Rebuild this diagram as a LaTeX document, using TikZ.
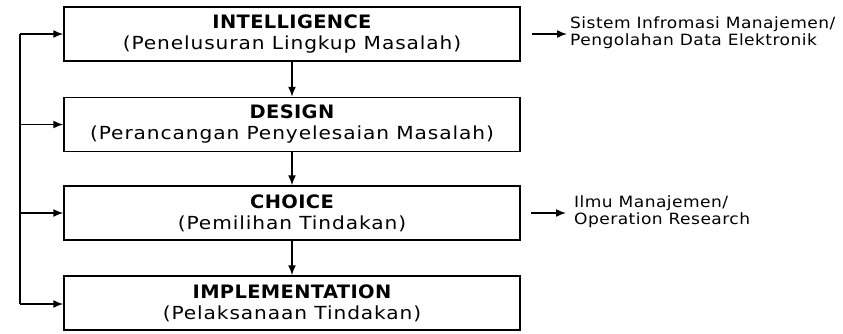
\documentclass[tikz,border=0pt]{standalone}
\usepackage{fontspec}
\setmainfont{DejaVu Sans}
\newfontfamily\titlefont[FakeStretch=1.05,LetterSpace=2]{DejaVu Sans}
\newfontfamily\boxfont[FakeStretch=1.12,LetterSpace=5]{DejaVu Sans}
\newfontfamily\notefont[FakeStretch=1.1,LetterSpace=3]{DejaVu Sans}
\usetikzlibrary{arrows.meta}
\newcommand{\stagetitle}[1]{{\titlefont\fontsize{18.5}{21}\selectfont\bfseries #1}}
\begin{document}
\begin{tikzpicture}[x=1pt,y=-1pt,
  stage/.style={draw,line width=1.5pt,minimum width=456pt,minimum height=54pt,
    inner sep=0pt,align=center,font=\boxfont\fontsize{18}{21}\selectfont},
  note/.style={anchor=west,align=left,inner sep=0pt,
    font=\notefont\fontsize{15.5}{17}\selectfont},
  flow/.style={line width=1.5pt,-{Latex[length=10pt,width=8pt]}},
  line/.style={line width=1.5pt}]
\useasboundingbox (0,0) rectangle (843,333);
\fill[white] (0,0) rectangle (843,333);

\node[stage] (intel) at (292,34) {\stagetitle{INTELLIGENCE}\\(Penelusuran Lingkup Masalah)};
\node[stage] (design) at (292,124.5) {\stagetitle{DESIGN}\\(Perancangan Penyelesaian Masalah)};
\node[stage] (choice) at (292,213) {\stagetitle{CHOICE}\\(Pemilihan Tindakan)};
\node[stage] (impl) at (292,303) {\stagetitle{IMPLEMENTATION}\\(Pelaksanaan Tindakan)};

\draw[flow] (intel) -- (design);
\draw[flow] (design) -- (choice);
\draw[flow] (choice) -- (impl);

% feedback line on the left
\coordinate (top) at (20,34);
\coordinate (bot) at (20,304);
\draw[line] (top) -- (bot);
\draw[flow] (top) -- (intel.west);
\draw[flow] (20,124.5) -- (design.west);
\draw[flow] (20,213) -- (choice.west);
\draw[flow] (bot) -- (impl.west |- bot);

% related disciplines
\node[note] (sim) at (570,33) {Sistem Infromasi Manajemen/\\Pengolahan Data Elektronik};
\node[note] (ilmu) at (574,212) {Ilmu Manajemen/\\Operation Research};
\draw[flow] ([xshift=11pt]intel.east) -- ([xshift=-3pt]sim.west |- intel.east);
\draw[flow] ([xshift=10pt]choice.east) -- ([xshift=-8pt]ilmu.west |- choice.east);
\end{tikzpicture}
\end{document}
